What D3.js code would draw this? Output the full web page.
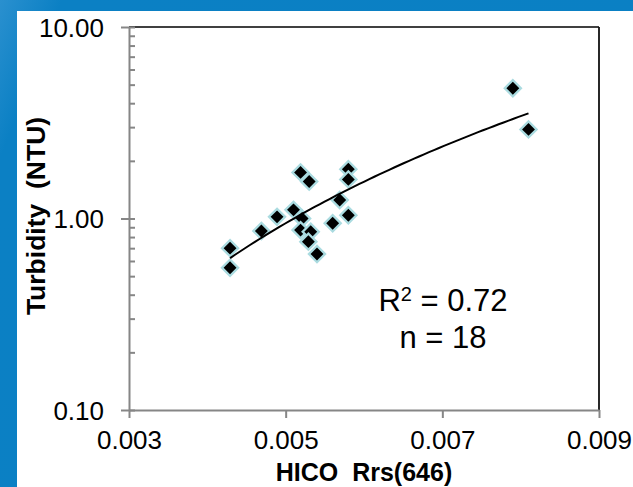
<!DOCTYPE html>
<html>
<head>
<meta charset="utf-8">
<script src="https://cdn.jsdelivr.net/npm/d3@7"></script>
<style>
  html, body { margin: 0; padding: 0; background: #ffffff; }
  svg { display: block; }
  text { font-family: "Liberation Sans", Arial, sans-serif; fill: #000; }
</style>
</head>
<body>
<svg id="chart" width="633" height="487"></svg>
<script>
// HICO Rrs(646) reflectance against measured turbidity
const rrs646 = [0.00429, 0.00429, 0.00469, 0.00489, 0.00510, 0.00519, 0.00530, 0.00521, 0.00519,
                0.00532, 0.00529, 0.00540, 0.00560, 0.00569, 0.00580, 0.00580, 0.00580, 0.00790, 0.00810];
const turbidity = [0.70, 0.553, 0.86, 1.02, 1.11, 1.74, 1.56, 1.00, 0.87,
                   0.853, 0.757, 0.653, 0.944, 1.25, 1.04, 1.81, 1.60, 4.79, 2.92];

// power trend line y = a * x^b
const trendA = 1.896e6;
const trendB = 2.739;
const trendRange = [0.00429, 0.0081];

const xTickValues = [0.003, 0.005, 0.007, 0.009];
const xTickLabels = ["0.003", "0.005", "0.007", "0.009"];
const yTickValues = [0.1, 1, 10];
const yTickLabels = ["0.10", "1.00", "10.00"];
const statLines = ["R2 = 0.72", "n = 18"];

const svg = d3.select("#chart");

// slide background
const defs = svg.append("defs");
const grad = defs.append("linearGradient").attr("id", "bg")
  .attr("x1", "0").attr("y1", "0").attr("x2", "1").attr("y2", "0.3");
grad.append("stop").attr("offset", "0").attr("stop-color", "#2a90cf");
grad.append("stop").attr("offset", "0.09").attr("stop-color", "#0b80c4");
grad.append("stop").attr("offset", "1").attr("stop-color", "#0a80c4");
svg.append("rect").attr("width", 633).attr("height", 487).attr("fill", "url(#bg)");
svg.append("rect").attr("x", 17).attr("y", 11).attr("width", 616).attr("height", 476).attr("fill", "#ffffff");

const x = d3.scaleLinear().domain([0.003, 0.009]).range([129, 599]);
const y = d3.scaleLog().domain([0.1, 10]).range([410, 27]);

// frame: top and right edges
svg.append("line").attr("x1", x(0.003)).attr("x2", x(0.009)).attr("y1", y(10)).attr("y2", y(10))
  .attr("stroke", "#000").attr("stroke-width", 1.6);
svg.append("line").attr("x1", x(0.009)).attr("x2", x(0.009)).attr("y1", y(10)).attr("y2", y(0.1))
  .attr("stroke", "#111").attr("stroke-width", 1.8);

// y axis: minor ticks inside
const minorY = [];
[0.1, 1].forEach(d => { for (let k = 2; k <= 9; k++) minorY.push(d * k); });
svg.append("g").attr("transform", `translate(${x(0.003)},0)`)
  .call(d3.axisRight(y).tickValues(minorY.concat(yTickValues)).tickSize(6).tickFormat(""))
  .call(g => g.select(".domain").remove())
  .call(g => g.selectAll(".tick line").attr("stroke", "#868686").attr("stroke-width", 2));

// y axis: major ticks and labels
svg.append("g").attr("transform", `translate(${x(0.003)},0)`)
  .call(d3.axisLeft(y).tickValues(yTickValues).tickSize(8).tickSizeOuter(0).tickPadding(17)
    .tickFormat((d, i) => yTickLabels[i]))
  .call(g => g.select(".domain").attr("stroke", "#868686").attr("stroke-width", 2))
  .call(g => g.selectAll(".tick line").attr("stroke", "#868686").attr("stroke-width", 2))
  .call(g => g.selectAll(".tick text").attr("font-size", 26).attr("dy", "0.36em")
    .style("font-family", "'Liberation Sans', Arial, sans-serif"));

// x axis
svg.append("g").attr("transform", `translate(0,${y(0.1)})`)
  .call(d3.axisBottom(x).tickValues(xTickValues).tickSize(8).tickSizeOuter(0).tickPadding(13)
    .tickFormat((d, i) => xTickLabels[i]))
  .call(g => g.select(".domain").attr("stroke", "#868686").attr("stroke-width", 2))
  .call(g => g.selectAll(".tick line").attr("stroke", "#868686").attr("stroke-width", 2))
  .call(g => g.selectAll(".tick text").attr("font-size", 26)
    .style("font-family", "'Liberation Sans', Arial, sans-serif"));

// axis titles
svg.append("text").attr("x", 364).attr("y", 481)
  .attr("text-anchor", "middle").attr("font-size", 25).attr("font-weight", "bold")
  .style("white-space", "pre").text("HICO  Rrs(646)");
svg.append("text").attr("transform", "translate(45,216) rotate(-90)")
  .attr("text-anchor", "middle").attr("font-size", 26.5).attr("font-weight", "bold")
  .style("white-space", "pre").text("Turbidity  (NTU)");

// data markers: black diamonds with a pale cyan rim
const points = rrs646.map((v, i) => ({ x: v, y: turbidity[i] }));
svg.append("g").selectAll("path").data(points).join("path")
  .attr("d", d3.symbol(d3.symbolSquare, 130))
  .attr("transform", d => `translate(${x(d.x)},${y(d.y)}) rotate(45)`)
  .attr("fill", "#000").attr("stroke", "#aadbe0").attr("stroke-width", 2.3);

// trend curve
const trendX = d3.range(0, 61).map(i => trendRange[0] + (trendRange[1] - trendRange[0]) * i / 60);
svg.append("path").datum(trendX)
  .attr("d", d3.line().x(d => x(d)).y(d => y(trendA * Math.pow(d, trendB))).curve(d3.curveBasis))
  .attr("fill", "none").attr("stroke", "#000").attr("stroke-width", 2);

// fit statistics
const stat = svg.append("text").attr("text-anchor", "middle").attr("font-size", 31);
stat.append("tspan").attr("x", 443).attr("y", 311).text("R");
stat.append("tspan").attr("font-size", 20).attr("dy", -10).text("2");
stat.append("tspan").attr("dy", 10).text(" = 0.72");
svg.append("text").attr("x", 443).attr("y", 348).attr("text-anchor", "middle").attr("font-size", 31)
  .text(statLines[1]);
</script>
</body>
</html>
